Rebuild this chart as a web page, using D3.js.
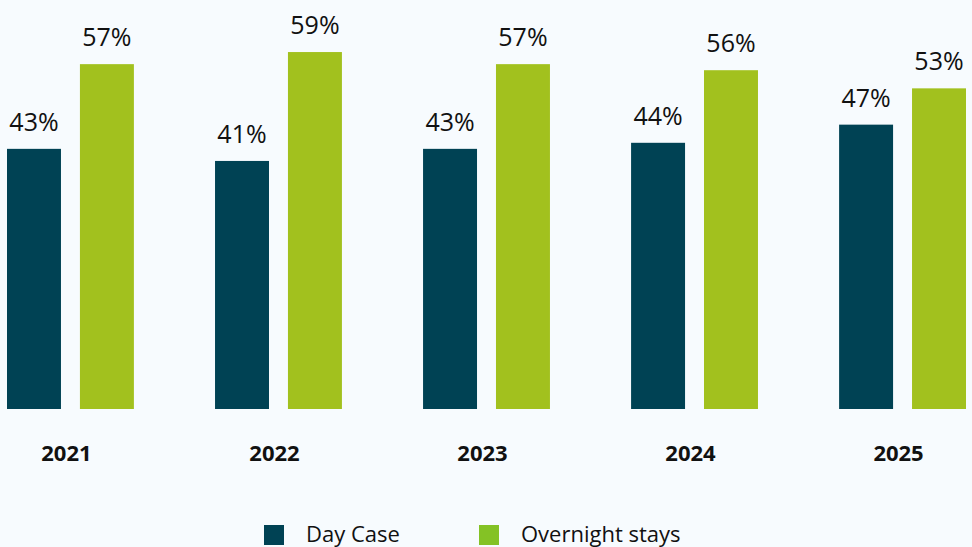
<!DOCTYPE html>
<html>
<head>
<meta charset="utf-8">
<script src="https://cdn.jsdelivr.net/npm/d3@7"></script>
<style>
  html, body { margin: 0; padding: 0; background: #f7fbfe; }
  svg { display: block; }
  text { font-family: "Open Sans", "Noto Sans", sans-serif; fill: #111; }
</style>
</head>
<body>
<div id="chart"></div>
<script>
const years = ['2021', '2022', '2023', '2024', '2025'];
const series = ['Day Case', 'Overnight stays'];
const dayCase = [43, 41, 43, 44, 47];
const overnight = [57, 59, 57, 56, 53];

const barColors = { 'Day Case': '#004254', 'Overnight stays': '#a2c11e' };
const legendColors = { 'Day Case': '#004254', 'Overnight stays': '#84c225' };

const width = 972;
const height = 547;

const svg = d3.select('#chart').append('svg')
    .attr('width', width)
    .attr('height', height);

svg.append('rect')
    .attr('width', width)
    .attr('height', height)
    .attr('fill', '#f7fbfe');

const x = d3.scaleBand()
    .domain(years)
    .range([7, 966])
    .paddingInner(0.39);

const xInner = d3.scaleBand()
    .domain(series)
    .range([0, x.bandwidth()])
    .paddingInner(0.26);

const y = d3.scaleLinear()
    .domain([0, 100])
    .range([409, -196]);

const rows = years.map((year, i) => ({
    year,
    values: [
        { key: 'Day Case', value: dayCase[i] },
        { key: 'Overnight stays', value: overnight[i] }
    ]
}));

const groups = svg.selectAll('g.year')
    .data(rows)
    .join('g')
    .attr('class', 'year')
    .attr('transform', d => `translate(${x(d.year)},0)`);

groups.selectAll('rect')
    .data(d => d.values)
    .join('rect')
    .attr('x', d => xInner(d.key))
    .attr('y', d => y(d.value))
    .attr('width', xInner.bandwidth())
    .attr('height', d => y(0) - y(d.value))
    .attr('fill', d => barColors[d.key]);

groups.selectAll('text.value')
    .data(d => d.values)
    .join('text')
    .attr('class', 'value')
    .attr('x', d => xInner(d.key) + xInner.bandwidth() / 2)
    .attr('y', d => y(d.value) - 18)
    .attr('text-anchor', 'middle')
    .style('font-size', '25px')
    .text(d => d.value + '%');

// year labels
svg.selectAll('text.yearLabel')
    .data(years)
    .join('text')
    .attr('class', 'yearLabel')
    .attr('x', d => x(d) + x.bandwidth() / 2 - 4)
    .attr('y', 461)
    .attr('text-anchor', 'middle')
    .style('font-size', '22px')
    .style('font-weight', 'bold')
    .text(d => d);

// legend
const legendX = [264, 479];
const legend = svg.selectAll('g.legend')
    .data(series)
    .join('g')
    .attr('class', 'legend')
    .attr('transform', (d, i) => `translate(${legendX[i]},525)`);

legend.append('rect')
    .attr('width', 20)
    .attr('height', 20)
    .attr('fill', d => legendColors[d]);

legend.append('text')
    .attr('x', 42)
    .attr('y', 17)
    .style('font-size', '22px')
    .text(d => d);
</script>
</body>
</html>
